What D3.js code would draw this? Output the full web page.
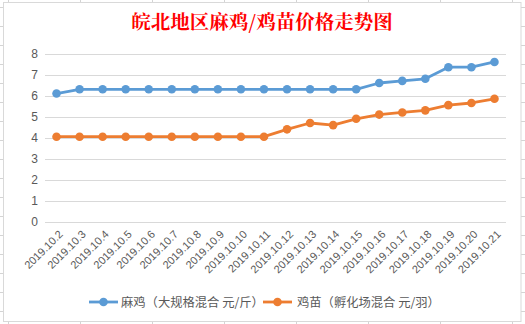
<!DOCTYPE html>
<html><head><meta charset="utf-8">
<script src="https://cdn.jsdelivr.net/npm/d3@7"></script>
<style>
html,body{margin:0;padding:0;background:#fff;}
svg{display:block;}
</style></head>
<body>
<svg id="c" width="525" height="324"></svg>
<script>
const categories = ["2019.10.2","2019.10.3","2019.10.4","2019.10.5","2019.10.6","2019.10.7","2019.10.8","2019.10.9","2019.10.10","2019.10.11","2019.10.12","2019.10.13","2019.10.14","2019.10.15","2019.10.16","2019.10.17","2019.10.18","2019.10.19","2019.10.20","2019.10.21"];
const maji = [6.1,6.3,6.3,6.3,6.3,6.3,6.3,6.3,6.3,6.3,6.3,6.3,6.3,6.3,6.6,6.7,6.8,7.35,7.35,7.6];
const jimiao = [4.05,4.05,4.05,4.05,4.05,4.05,4.05,4.05,4.05,4.05,4.4,4.7,4.6,4.9,5.1,5.2,5.3,5.55,5.65,5.85];
const yTicks = [0,1,2,3,4,5,6,7,8];
const seriesNames = ["麻鸡（大规格混合 元/斤）","鸡苗（孵化场混合 元/羽）"];
const title = "皖北地区麻鸡/鸡苗价格走势图";

const svg = d3.select("#c");
const W = 525, H = 324;

// spreadsheet background grid
const bg = svg.append("g");
const colXs = d3.range(8.5, W, 72);
const rowYs = d3.range(7.5, H, 19);
colXs.forEach(x => bg.append("line").attr("x1",x).attr("x2",x).attr("y1",0).attr("y2",H).attr("stroke","#d4d4d4"));
rowYs.forEach(y => bg.append("line").attr("x1",0).attr("x2",W).attr("y1",y).attr("y2",y).attr("stroke","#d4d4d4"));

// chart area
svg.append("rect").attr("x",3.5).attr("y",2.5).attr("width",517.5).attr("height",319)
  .attr("fill","#fff").attr("stroke","#d9d9d9");

const x = d3.scaleBand().domain(categories).range([45,506]).padding(0);
const y = d3.scaleLinear().domain([0,8]).range([222,53.5]);

// gridlines
svg.append("g").selectAll("line").data(yTicks).join("line")
  .attr("x1",45).attr("x2",506)
  .attr("y1",d=>Math.round(y(d))+0.5).attr("y2",d=>Math.round(y(d))+0.5)
  .attr("stroke","#d9d9d9").attr("stroke-width",1);

// y axis labels
const yAxis = d3.axisLeft(y).tickValues(yTicks).tickSize(0).tickPadding(0);
const gy = svg.append("g").attr("transform","translate(38,0)").call(yAxis);
gy.select(".domain").remove();
gy.selectAll("text").attr("fill","#595959").attr("font-size","12px")
  .attr("font-family","'Liberation Sans', Arial, sans-serif");

// x axis labels
const xAxis = d3.axisBottom(x).tickSize(0).tickPadding(0);
const gx = svg.append("g").attr("transform","translate(0,222)").call(xAxis);
gx.select(".domain").remove();
gx.selectAll("text")
  .attr("fill","#595959").attr("font-size","11px")
  .attr("font-family","'Liberation Sans', Arial, sans-serif")
  .attr("text-anchor","end")
  .attr("dy",null).attr("y",0)
  .attr("transform","translate(7,13) rotate(-45)");

// lines
const line = vals => d3.line().x((d,i)=>x(categories[i])+x.bandwidth()/2).y(d=>y(d))(vals);
const series = [{vals:maji,color:"#5b9bd5"},{vals:jimiao,color:"#ed7d31"}];
series.forEach(s=>{
  svg.append("path").attr("d",line(s.vals)).attr("fill","none")
    .attr("stroke",s.color).attr("stroke-width",2.8).attr("stroke-linejoin","round");
  svg.append("g").selectAll("circle").data(s.vals).join("circle")
    .attr("cx",(d,i)=>x(categories[i])+x.bandwidth()/2).attr("cy",d=>y(d))
    .attr("r",4.3).attr("fill",s.color);
});

// title
svg.append("text").attr("x",262).attr("y",29).attr("text-anchor","middle")
  .attr("fill","#ff0000").attr("font-size","19.5px").attr("font-weight","bold")
  .attr("font-family","'Noto Serif CJK SC','Noto Sans CJK SC',serif")
  .text(title);

// legend
const legend = [{x:89,tx:121,name:seriesNames[0],color:"#5b9bd5"},{x:263,tx:297,name:seriesNames[1],color:"#ed7d31"}];
legend.forEach(l=>{
  svg.append("line").attr("x1",l.x).attr("x2",l.x+29).attr("y1",302).attr("y2",302)
    .attr("stroke",l.color).attr("stroke-width",2.8);
  svg.append("circle").attr("cx",l.x+14.5).attr("cy",302).attr("r",4.3).attr("fill",l.color);
  svg.append("text").attr("x",l.tx).attr("y",306.5).attr("fill","#595959")
    .attr("font-size","12.3px").attr("font-family","'Noto Sans CJK SC',sans-serif").text(l.name);
});
</script>
</body></html>
